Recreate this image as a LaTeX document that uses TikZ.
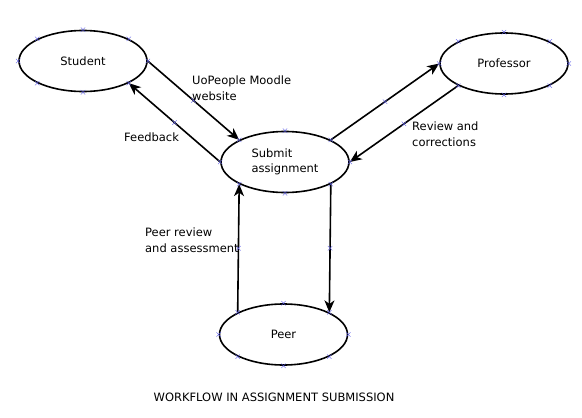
\documentclass[tikz,border=0pt]{standalone}
\usepackage{fontspec}
\setmainfont{DejaVu Sans}
\usepackage{tikz}
\usetikzlibrary{shapes.geometric, shapes.misc, arrows.meta}
\definecolor{markblue}{RGB}{90,90,230}

\begin{document}
\begin{tikzpicture}[x=1pt, y=-1pt]
	\tikzstyle{every node} = [font=\fontsize{11.5pt}{15.5pt}\selectfont, inner sep=0pt]
	\tikzstyle{actor} = [ellipse, draw, line width=1.6pt, minimum width=128pt, minimum height=61pt, align=left]
	\tikzstyle{note} = [anchor=west, align=left]
	\tikzstyle{flow} = [-{Stealth[length=12pt, width=10pt, inset=3.5pt]}, line width=1.6pt]
	\tikzstyle{xmark} = [cross out, draw=markblue, line width=0.4pt, minimum size=4pt]
	\useasboundingbox (0,0) rectangle (582,418);
	\node[actor] (student) at (83,61) {Student};
	\node[actor] (prof) at (504,63.5) {Professor};
	\node[actor] (submit) at (285,162) {Submit\\assignment};
	\node[actor] (peer) at (283.5,334.5) {Peer};
	\draw [flow] (student.east) -- node[xmark]{} (submit.north west);
	\draw [flow] (submit.west) -- node[xmark]{} (student.south east);
	\draw [flow] (submit.north east) -- node[xmark]{} (prof.west);
	\draw [flow] (prof.south west) -- node[xmark]{} (submit.east);
	\draw [flow] (peer.north west) -- node[xmark]{} (submit.south west);
	\draw [flow] (submit.south east) -- node[xmark]{} (peer.north east);
	\foreach \n in {student, prof, submit, peer}
		\foreach \a in {north, north east, east, south east, south, south west, west, north west}
			\node[xmark] at (\n.\a) {};
	\node[note] (moodle) at (192,88) {UoPeople Moodle\\website};
	\node[note] (feedback) at (124,137) {Feedback};
	\node[note] (review) at (412,134) {Review and\\corrections};
	\node[note] (peerrev) at (145,240) {Peer review\\and assessment};
	\node (title) at (274,397) {WORKFLOW IN ASSIGNMENT SUBMISSION};
\end{tikzpicture}
\end{document}
